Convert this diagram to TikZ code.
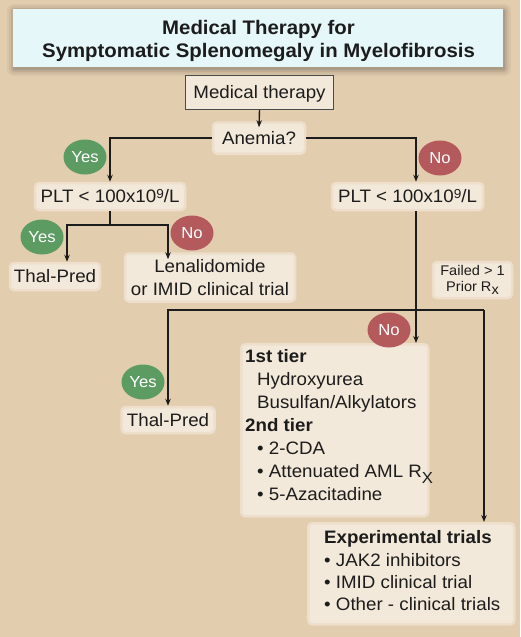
\documentclass[tikz,border=0pt]{standalone}
\usepackage{fontspec}
\setmainfont[FakeStretch=1.04]{Liberation Sans}
\usetikzlibrary{arrows.meta,shapes.geometric,calc}
\definecolor{bgc}{HTML}{E3CDAF}
\definecolor{hlc}{HTML}{F3E9DA}
\definecolor{titlec}{HTML}{E6F7FA}
\definecolor{yesc}{HTML}{5C9C63}
\definecolor{noc}{HTML}{B45A5C}
\definecolor{ink}{HTML}{1C1C1C}
\definecolor{boxc}{HTML}{4A4A4A}
\begin{document}
\begin{tikzpicture}[x=1pt,y=-1pt,
  body/.style={font=\fontsize{18}{23}\selectfont, text=ink},
  hlbox/.style={fill=hlc, draw=hlc!65!bgc, line width=2.5pt, rounded corners=4pt, inner sep=0pt},
  one/.style={hlbox, body, text height=12.9pt, text depth=0pt},
  badge/.style={ellipse, text=white, font=\fontsize{16}{16}\selectfont, minimum width=43pt, minimum height=35pt, inner sep=0pt},
  yesb/.style={badge, fill=yesc},
  nob/.style={badge, fill=noc},
  ln/.style={draw=ink, line width=1.4pt},
  arr/.style={ln, -{Stealth[length=7pt,width=5.5pt]}}
]
\fill[bgc] (0,0) rectangle (520,637);
\useasboundingbox (0,0) rectangle (520,637);

% title
\foreach \i/\o in {7/0.04,5/0.05,3/0.07,1/0.09}
  \fill[black,opacity=\o,rounded corners=\i pt] (13-\i+1,9-\i+2) rectangle (503+\i+1,67+\i+2);
\node[fill=titlec, minimum width=490pt, minimum height=58pt, inner sep=0pt] (title) at (258,38) {};
\node[font=\fontsize{19.6}{23}\selectfont\bfseries, text=ink, anchor=base, inner sep=0pt] (title1) at (258.5,34) {Medical Therapy for};
\node[font=\fontsize{19.6}{23}\selectfont\bfseries, text=ink, anchor=base, inner sep=0pt] (title2) at (258.5,57) {Symptomatic Splenomegaly in Myelofibrosis};

% nodes
\node[one, draw=boxc, line width=1.3pt, rounded corners=0pt, minimum width=148pt, minimum height=34pt] (med) at (259.5,92.5) {Medical therapy};
\node[one, minimum width=92pt, minimum height=31pt] (anem) at (259,138) {Anemia?};
\node[one, minimum width=150pt, minimum height=27pt] (pltL) at (110,196.5) {PLT < 100x10\raisebox{4pt}{\fontsize{13}{12}\selectfont 9}/L};
\node[one, minimum width=151pt, minimum height=27pt] (pltR) at (407.5,196.5) {PLT < 100x10\raisebox{4pt}{\fontsize{13}{12}\selectfont 9}/L};
\node[one, minimum width=90pt, minimum height=27pt] (thal1) at (55,276.5) {Thal-Pred};
\node[hlbox, body, align=center, minimum width=170pt, minimum height=48pt] (len) at (210,277.5) {Lenalidomide\\or IMID clinical trial};
\node[hlbox, font=\fontsize{14}{16}\selectfont, text=ink, align=center, minimum width=79pt, minimum height=36pt] (fail) at (472.5,280) {Failed > 1\\Prior R\raisebox{-3pt}{x}};
\node[one, minimum width=93pt, minimum height=26pt] (thal2) at (168,420) {Thal-Pred};

\node[hlbox, minimum width=187pt, minimum height=172pt, anchor=north west] (tierbox) at (240,343) {};
\node[body, align=left, anchor=north west, inner sep=0pt] (tiertxt) at (245,349.5)
  {\textbf{1st tier}\\
   \hspace*{12pt}Hydroxyurea\\
   \hspace*{12pt}Busulfan/Alkylators\\
   \textbf{2nd tier}\\
   \hspace*{12pt}• 2-CDA\\
   \hspace*{12pt}• Attenuated AML R\raisebox{-6pt}{\fontsize{16}{16}\selectfont X}\\
   \hspace*{12pt}• 5-Azacitadine};

\node[hlbox, minimum width=206pt, minimum height=101pt, anchor=north west] (expbox) at (307,522) {};
\node[font=\fontsize{18}{22.3}\selectfont, text=ink, align=left, anchor=north west, inner sep=0pt] (exptxt) at (324,530.5)
  {\textbf{Experimental trials}\\
   • JAK2 inhibitors\\
   • IMID clinical trial\\
   • Other - clinical trials};

% junctions
\coordinate (j1) at (110,225);
\coordinate (j2) at (416,310);
\coordinate (j3) at (484,310);

% connectors
\draw[arr] (med.south) -- ($(anem.north)+(0,6)$);
\draw[arr] (anem.west) -| (pltL.north);
\draw[arr] (anem.east) -| (pltR.north -| j2);
\draw[ln] (pltL.south) -- (j1);
\draw[arr] (j1) -| ($(thal1.north)+(12,0)$);
\draw[arr] (j1) -| ($(len.north)+(-42,7)$);
\draw[arr] (pltR.south -| j2) -- (tierbox.north -| j2);
\draw[arr] (j2) -| (thal2.north);
\draw[ln] (j2) -- (j3);
\draw[arr] (j3) -- (expbox.north -| j3);

% badges
\node[yesb] (yes1) at (85,157) {Yes};
\node[nob] (no1) at (440,158) {No};
\node[yesb] (yes2) at (42,237) {Yes};
\node[nob] (no2) at (192,233) {No};
\node[nob] (no3) at (389,330) {No};
\node[yesb] (yes3) at (143,382) {Yes};
\end{tikzpicture}
\end{document}
